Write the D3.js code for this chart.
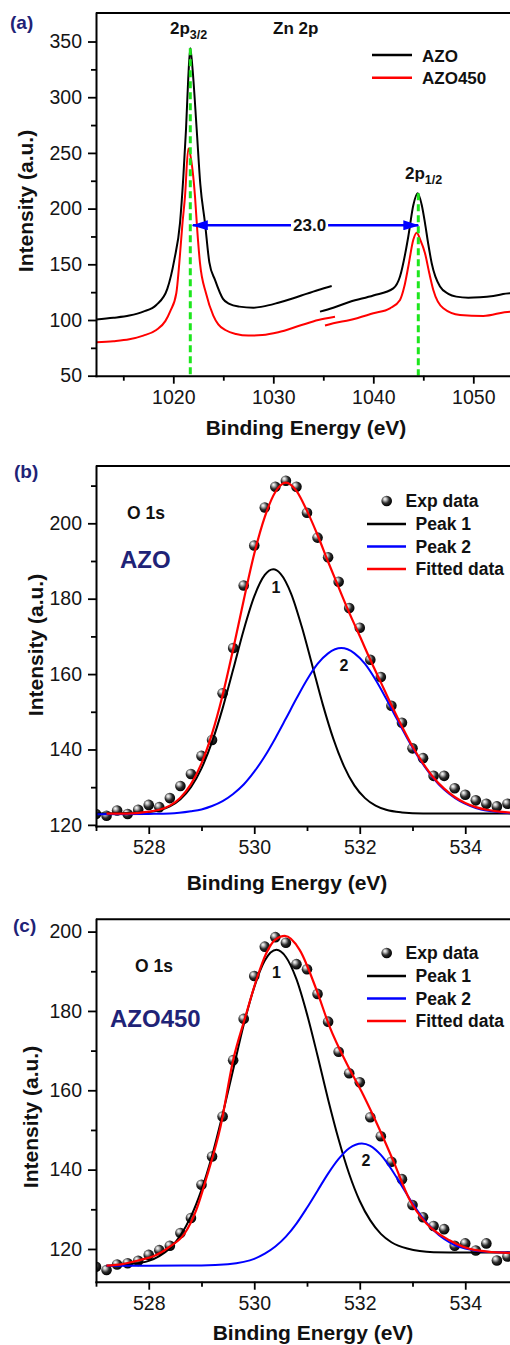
<!DOCTYPE html>
<html>
<head>
<meta charset="utf-8">
<script src="https://cdn.jsdelivr.net/npm/d3@7"></script>
<style>
  body { margin: 0; background: #fff; }
  svg { display: block; }
</style>
</head>
<body>
<div id="chart"></div>
<script>
// ---- panel (a): Zn 2p, [binding energy, intensity]
const azoLow = [[1012.3,100.5],[1014,102],[1015.6,104],[1017,107.5],[1018.3,113.5],[1019.4,128],[1020.1,154],[1020.67,187],[1021.0,228],[1021.27,271],[1021.5,318],[1021.7,344],[1021.9,328],[1022.34,271],[1022.7,222],[1023.17,187],[1023.6,152],[1024.17,136],[1024.97,119],[1025.6,114.5],[1026.6,112],[1028.0,111],[1028.9,112],[1030.5,115.5],[1032.0,119.5],[1033.3,123.5],[1034.5,127],[1035.84,130.5]];
const azoHigh = [[1034.67,107.5],[1036,111],[1037.67,116.4],[1040,122],[1042,128.4],[1042.67,139],[1043.2,160],[1043.5,175],[1044.0,203],[1044.44,213.7],[1044.85,203],[1045.17,187],[1045.5,168],[1045.84,151],[1046.67,130],[1047.5,123.5],[1048.3,121],[1049.5,120],[1050.67,120.4],[1052,121.5],[1053.67,124],[1055,124]];
const azo450Low = [[1012.3,80],[1014,81],[1015.6,82.7],[1017,86],[1018.3,91],[1019.2,99],[1019.7,108],[1020.3,124],[1020.6,151],[1020.9,185],[1021.17,211],[1021.5,254],[1021.8,243],[1022.17,211],[1022.4,180],[1022.67,151],[1023.27,124],[1024.0,104],[1024.5,96],[1025.2,91],[1026.27,87.4],[1027.5,86],[1028.9,86.5],[1030.5,89],[1032.67,95],[1034.5,100],[1036.17,103]];
const azo450High = [[1035.17,95],[1036,97],[1037.67,100],[1040,106],[1041.67,110.5],[1042.67,118],[1043.1,130],[1043.5,148],[1044.0,172],[1044.34,178.4],[1044.7,172],[1045.17,160],[1045.6,142],[1046,127],[1047,110.5],[1048.67,104.5],[1051,103.6],[1053.67,107.5],[1055,107]];
const peakEnergy = [1021.7, 1044.5];
const peakTop = [344, 213.7];
const splitEnds = [1021.95, 1044.5];
const splitLevel = 185;
const splitLabel = '23.0';

// ---- panel (b): O 1s AZO
const bExp = [[527.0,122.9],[527.2,122.4],[527.4,123.8],[527.6,122.9],[527.8,124.0],[528.0,125.3],[528.2,124.7],[528.4,127.1],[528.6,130.3],[528.8,133.5],[529.0,138.3],[529.2,142.5],[529.4,154.9],[529.6,166.9],[529.8,183.5],[530.0,194.1],[530.2,204.2],[530.4,209.7],[530.6,211.3],[530.8,209.7],[531.0,202.8],[531.2,196.2],[531.4,191.0],[531.6,184.5],[531.8,177.5],[532.0,172.3],[532.2,163.8],[532.4,159.2],[532.6,151.6],[532.8,147.1],[533.0,140.3],[533.2,137.7],[533.4,133.0],[533.6,133.0],[533.8,129.7],[534.0,128.0],[534.2,126.5],[534.4,125.6],[534.6,124.9],[534.8,125.6]];
const bPeak1 = [[527.0,123.0],[527.8,123.2],[528.0,123.4],[528.2,123.9],[528.4,124.9],[528.6,126.8],[528.8,130.0],[529.0,135.0],[529.2,142.0],[529.4,150.9],[529.6,161.2],[529.8,171.7],[530.0,180.6],[530.2,186.3],[530.36,187.8],[530.5,186.6],[530.7,181.3],[530.9,172.6],[531.1,162.3],[531.3,151.9],[531.5,142.8],[531.7,135.6],[531.9,130.4],[532.1,127.1],[532.3,125.1],[532.5,124.0],[532.8,123.3],[533.2,123.0],[535.0,123.0]];
const bPeak2 = [[527.0,122.8],[528.0,122.9],[528.4,123.0],[528.8,123.6],[529.0,124.1],[529.2,125.0],[529.4,126.3],[529.6,128.2],[529.8,130.7],[530.0,134.1],[530.2,138.2],[530.4,143.0],[530.6,148.2],[530.8,153.5],[531.0,158.5],[531.2,162.7],[531.4,165.5],[531.65,166.9],[531.9,165.5],[532.1,162.7],[532.3,158.5],[532.5,153.5],[532.7,148.2],[532.9,143.0],[533.1,138.2],[533.3,134.1],[533.5,130.7],[533.7,128.2],[533.9,126.3],[534.1,125.0],[534.3,124.1],[534.5,123.6],[534.9,123.0],[535.0,122.9]];
const bFit = [[527.2,123.0],[527.6,123.0],[528.0,123.5],[528.2,124.0],[528.4,125.1],[528.6,127.2],[528.8,130.8],[529.0,136.3],[529.2,144.2],[529.4,154.4],[529.6,166.6],[529.8,179.6],[530.0,191.9],[530.2,201.7],[530.4,208.3],[530.6,210.8],[530.8,208.6],[531.0,203.3],[531.2,196.9],[531.4,189.8],[531.6,183.0],[531.8,176.3],[532.0,170.1],[532.2,163.8],[532.4,157.8],[532.6,151.8],[532.8,146.1],[533.0,140.8],[533.2,136.3],[533.4,132.5],[533.6,129.6],[533.8,127.4],[534.0,125.8],[534.2,124.7],[534.4,124.0],[534.6,123.6],[534.8,123.3],[535.0,123.1]];

// ---- panel (c): O 1s AZO450
const cExp = [[527.0,115.5],[527.2,114.7],[527.4,116.1],[527.6,116.4],[527.8,117.0],[528.0,118.5],[528.2,119.7],[528.4,120.8],[528.6,124.0],[528.8,127.8],[529.0,136.2],[529.2,143.3],[529.4,153.4],[529.6,167.6],[529.8,178.0],[530.0,188.8],[530.2,196.2],[530.4,198.6],[530.6,197.2],[530.8,191.8],[531.0,190.5],[531.2,184.3],[531.4,177.3],[531.6,169.7],[531.8,164.3],[532.0,162.0],[532.2,153.2],[532.4,148.4],[532.6,142.0],[532.8,137.6],[533.0,131.1],[533.2,128.0],[533.4,125.8],[533.6,125.0],[533.8,120.8],[534.0,121.4],[534.2,119.6],[534.4,121.4],[534.6,117.1],[534.8,118.1]];
const cPeak1 = [[527.2,115.8],[527.6,116.1],[528.0,117.0],[528.2,118.2],[528.4,120.2],[528.6,123.4],[528.8,128.2],[529.0,134.9],[529.2,143.5],[529.4,153.9],[529.6,165.2],[529.8,176.5],[530.0,186.0],[530.2,192.7],[530.42,195.4],[530.6,193.6],[530.8,188.0],[531.0,179.2],[531.2,168.7],[531.4,157.7],[531.6,147.6],[531.8,138.9],[532.0,132.1],[532.2,127.2],[532.4,123.8],[532.6,121.7],[532.9,120.1],[533.4,119.2],[534.0,119.1],[535.0,119.1]];
const cPeak2 = [[527.2,115.8],[528.0,115.8],[529.0,115.85],[529.5,116.15],[529.8,116.75],[530.0,117.5],[530.2,118.8],[530.4,120.6],[530.6,123.1],[530.8,126.4],[531.0,130.4],[531.2,134.7],[531.4,139.0],[531.6,142.7],[531.8,145.4],[532.04,146.6],[532.2,146.0],[532.4,143.7],[532.6,140.1],[532.8,135.8],[533.0,131.5],[533.2,127.7],[533.4,124.7],[533.6,122.5],[533.8,121.0],[534.0,120.1],[534.4,119.3],[535.0,119.1]];
const cFit = [[527.2,115.8],[527.5,116.2],[527.83,117.2],[528.1,118.2],[528.4,120.6],[528.68,123.9],[528.9,129.8],[529.1,138.2],[529.36,150.8],[529.6,167.6],[529.82,178.0],[530.04,187.8],[530.23,194.6],[530.4,198.0],[530.58,198.9],[530.86,195.4],[531.18,185.3],[531.43,176.0],[531.75,166.8],[532.06,159.0],[532.38,150.0],[532.63,142.4],[532.95,132.3],[533.26,126.5],[533.7,122.2],[534.2,119.7],[534.81,119.0],[535.0,119.0]];

// ---- ticks
const aXMajor = [1020, 1030, 1040, 1050];
const aXMinor = [1015, 1025, 1035, 1045];
const aYMajor = [50, 100, 150, 200, 250, 300, 350];
const aYMinor = [75, 125, 175, 225, 275, 325];
const oXMajor = [528, 530, 532, 534];
const oXMinor = [527, 529, 531, 533];
const oYMajor = [120, 140, 160, 180, 200];
const bYMinor = [130, 150, 170, 190, 210];
const cYMinor = [130, 150, 170, 190];

const legendA = ['AZO', 'AZO450'];
const legendO = ['Exp data', 'Peak 1', 'Peak 2', 'Fitted data'];

const fontFam = '"Liberation Sans", Arial, Helvetica, sans-serif';
const navy = '#1f2377';
const red = '#ff0000';
const blue = '#0000ff';
const green = '#1de61d';

const svg = d3.select('#chart')
  .append('svg')
  .attr('width', 510)
  .attr('height', 1345)
  .attr('viewBox', [0, 0, 510, 1345])
  .style('font-family', fontFam);

const defs = svg.append('defs');
const grad = defs.append('radialGradient')
  .attr('id', 'ball')
  .attr('cx', '42%').attr('cy', '40%').attr('r', '60%')
  .attr('fx', '32%').attr('fy', '30%');
grad.append('stop').attr('offset', '0%').attr('stop-color', '#ffffff');
grad.append('stop').attr('offset', '22%').attr('stop-color', '#c4c4c4');
grad.append('stop').attr('offset', '60%').attr('stop-color', '#2b2b2b');
grad.append('stop').attr('offset', '100%').attr('stop-color', '#000000');

defs.append('marker')
  .attr('id', 'arrow')
  .attr('viewBox', '0 0 16 10')
  .attr('refX', 15).attr('refY', 5)
  .attr('markerWidth', 16).attr('markerHeight', 10)
  .attr('markerUnits', 'userSpaceOnUse')
  .attr('orient', 'auto-start-reverse')
  .append('path')
  .attr('d', 'M0,0 L16,5 L0,10 z')
  .attr('fill', blue);

function addClip(id, x, y) {
  defs.append('clipPath').attr('id', id)
    .append('rect')
    .attr('x', x.range()[0]).attr('y', y.range()[1])
    .attr('width', x.range()[1] - x.range()[0])
    .attr('height', y.range()[0] - y.range()[1]);
}

function drawFrame(x, y, xMajor, xMinor, yMajor, yMinor) {
  const g = svg.append('g');
  const [x0, x1] = x.range();
  const [yb, yt] = y.range();

  g.append('line')
    .attr('x1', x0).attr('x2', x1 + 4)
    .attr('y1', yt).attr('y2', yt)
    .attr('stroke', '#000').attr('stroke-width', 2);

  g.append('g')
    .attr('transform', `translate(0,${yb})`)
    .call(d3.axisBottom(x).tickValues(xMajor).tickSize(8).tickPadding(6).tickSizeOuter(0).tickFormat(d3.format('d')));
  g.append('g')
    .attr('transform', `translate(0,${yb})`)
    .call(d3.axisBottom(x).tickValues(xMinor).tickSize(5).tickFormat(''))
    .call(a => a.select('.domain').remove());

  g.append('g')
    .attr('transform', `translate(${x0},0)`)
    .call(d3.axisLeft(y).tickValues(yMajor).tickSize(8).tickPadding(6).tickSizeOuter(0));
  g.append('g')
    .attr('transform', `translate(${x0},0)`)
    .call(d3.axisLeft(y).tickValues(yMinor).tickSize(5).tickFormat(''))
    .call(a => a.select('.domain').remove());

  g.selectAll('.domain').attr('stroke-width', 2).attr('stroke-linecap', 'square');
  g.selectAll('.tick line').attr('stroke-width', 1.8);
  g.selectAll('.tick text')
    .attr('font-size', 19.5)
    .attr('font-family', fontFam)
    .attr('fill', '#151515');
  return g;
}

function addText(txt, x, y, size, opts = {}) {
  return svg.append('text')
    .attr('x', x).attr('y', y)
    .attr('font-size', size)
    .attr('font-weight', opts.weight || 'bold')
    .attr('fill', opts.fill || '#111')
    .attr('text-anchor', opts.anchor || 'start')
    .text(txt);
}

function axisTitles(xc, xy, yx, yc) {
  addText('Binding Energy (eV)', xc, xy, 21, { anchor: 'middle' });
  svg.append('text')
    .attr('transform', `translate(${yx},${yc}) rotate(-90)`)
    .attr('text-anchor', 'middle')
    .attr('font-size', 21)
    .attr('font-weight', 'bold')
    .attr('fill', '#111')
    .text('Intensity (a.u.)');
}

function drawLine(g, data, x, y, color, width) {
  const line = d3.line()
    .x(d => x(d[0]))
    .y(d => y(d[1]))
    .curve(d3.curveMonotoneX);
  g.append('path')
    .attr('fill', 'none')
    .attr('stroke', color)
    .attr('stroke-width', width)
    .attr('stroke-linejoin', 'round')
    .attr('d', line(data));
}

// ================= panel (a)
const xa = d3.scaleLinear().domain([1012.27, 1055]).range([96, 523.3]);
const ya = d3.scaleLinear().domain([50, 375.6]).range([375.7, 13]);
addClip('clipA', xa, ya);

const plotA = svg.append('g').attr('clip-path', 'url(#clipA)');
drawLine(plotA, azoLow, xa, ya, '#000', 2);
drawLine(plotA, azoHigh, xa, ya, '#000', 2);
drawLine(plotA, azo450Low, xa, ya, red, 2);
drawLine(plotA, azo450High, xa, ya, red, 2);

// green dashed peak markers
plotA.selectAll('line.peak')
  .data(peakEnergy)
  .enter()
  .append('line')
  .attr('class', 'peak')
  .attr('x1', d => xa(d)).attr('x2', d => xa(d))
  .attr('y1', (d, i) => ya(peakTop[i]))
  .attr('y2', ya(50))
  .attr('stroke', green)
  .attr('stroke-width', 3)
  .attr('stroke-dasharray', '7,4');

// spin-orbit splitting arrow
svg.append('line')
  .attr('x1', xa(splitEnds[0])).attr('x2', xa(splitEnds[1]))
  .attr('y1', ya(splitLevel)).attr('y2', ya(splitLevel))
  .attr('stroke', blue)
  .attr('stroke-width', 2.5)
  .attr('marker-start', 'url(#arrow)')
  .attr('marker-end', 'url(#arrow)');
const splitMid = (xa(splitEnds[0]) + xa(splitEnds[1])) / 2 + 4;
const splitBg = svg.append('rect').attr('fill', '#fff');
const splitTxt = addText(splitLabel, splitMid, ya(splitLevel) + 6, 17, { anchor: 'middle' });
const sb = splitTxt.node().getBBox();
splitBg.attr('x', sb.x - 2).attr('y', sb.y + 2).attr('width', sb.width + 4).attr('height', sb.height - 4);

drawFrame(xa, ya, aXMajor, aXMinor, aYMajor, aYMinor);
axisTitles(306, 434.5, 33, 201);

addText('(a)', 10, 29, 19, { fill: navy });
const p32 = addText('2p', 170, 34, 17);
p32.append('tspan').attr('font-size', 12.5).attr('dy', 5).text('3/2');
const p12 = addText('2p', 405, 179, 17);
p12.append('tspan').attr('font-size', 12.5).attr('dy', 5).text('1/2');
addText('Zn 2p', 273, 34, 17);

const legA = svg.append('g');
legA.selectAll('line')
  .data(legendA)
  .enter()
  .append('line')
  .attr('x1', 372).attr('x2', 412)
  .attr('y1', (d, i) => 55 + i * 22.7)
  .attr('y2', (d, i) => 55 + i * 22.7)
  .attr('stroke', (d, i) => i === 0 ? '#000' : red)
  .attr('stroke-width', 2.5);
legA.selectAll('text')
  .data(legendA)
  .enter()
  .append('text')
  .attr('x', 422)
  .attr('y', (d, i) => 61.5 + i * 22.7)
  .attr('font-size', 17)
  .attr('font-weight', 'bold')
  .attr('fill', '#111')
  .text(d => d);

// ================= panels (b) and (c)
function drawO1s(cfg) {
  const x = d3.scaleLinear().domain([527, 535]).range([96, 518]);
  const y = d3.scaleLinear().domain(cfg.yDomain).range(cfg.yRange);
  addClip(cfg.clip, x, y);
  const plot = svg.append('g').attr('clip-path', `url(#${cfg.clip})`);

  plot.selectAll('circle')
    .data(cfg.exp)
    .enter()
    .append('circle')
    .attr('cx', d => x(d[0]))
    .attr('cy', d => y(d[1]))
    .attr('r', 5.3)
    .attr('fill', 'url(#ball)');

  drawLine(plot, cfg.peak1, x, y, '#000', 2);
  drawLine(plot, cfg.peak2, x, y, blue, 2);
  drawLine(plot, cfg.fit, x, y, red, 2.2);

  drawFrame(x, y, oXMajor, oXMinor, oYMajor, cfg.yMinor);
  axisTitles(cfg.xTitleX, cfg.xTitleY, cfg.yTitleX, cfg.yTitleY);

  addText(cfg.tag, cfg.tagX, cfg.tagY, 19, { fill: navy });
  addText('O 1s', cfg.o1s[0], cfg.o1s[1], 17.5);
  addText(cfg.sample, cfg.sampleXY[0], cfg.sampleXY[1], 24, { fill: navy });
  addText('1', cfg.lab1[0], cfg.lab1[1], 16, { anchor: 'middle' });
  addText('2', cfg.lab2[0], cfg.lab2[1], 16, { anchor: 'middle' });

  const ly = cfg.legendY;
  const leg = svg.append('g');
  leg.append('circle')
    .attr('cx', 386.7).attr('cy', ly)
    .attr('r', 5.3)
    .attr('fill', 'url(#ball)');
  leg.append('text')
    .attr('x', 405.5).attr('y', ly + 6.3)
    .attr('font-size', 17.5).attr('font-weight', 'bold').attr('fill', '#111')
    .text(legendO[0]);
  const colors = ['#000', blue, red];
  legendO.slice(1).forEach((name, i) => {
    const yy = ly + 23 + i * 22.5;
    leg.append('line')
      .attr('x1', 367).attr('x2', 406)
      .attr('y1', yy).attr('y2', yy)
      .attr('stroke', colors[i])
      .attr('stroke-width', 2.5);
    leg.append('text')
      .attr('x', 415.5).attr('y', yy + 6.3)
      .attr('font-size', 17.5).attr('font-weight', 'bold').attr('fill', '#111')
      .text(name);
  });
}

drawO1s({
  clip: 'clipB',
  exp: bExp, peak1: bPeak1, peak2: bPeak2, fit: bFit,
  yDomain: [119.7, 215.2], yRange: [826, 466], yMinor: bYMinor,
  xTitleX: 287, xTitleY: 890, yTitleX: 43, yTitleY: 645,
  tag: '(b)', tagX: 14, tagY: 478,
  o1s: [127, 519], sample: 'AZO', sampleXY: [120, 568],
  lab1: [276, 593], lab2: [344, 671],
  legendY: 501
});

drawO1s({
  clip: 'clipC',
  exp: cExp, peak1: cPeak1, peak2: cPeak2, fit: cFit,
  yDomain: [111.75, 203.1], yRange: [1281.7, 919.3], yMinor: cYMinor,
  xTitleX: 313, xTitleY: 1340, yTitleX: 38, yTitleY: 1117,
  tag: '(c)', tagX: 13, tagY: 932,
  o1s: [135, 971.5], sample: 'AZO450', sampleXY: [110, 1026.5],
  lab1: [276.5, 978], lab2: [366, 1166],
  legendY: 953
});
</script>
</body>
</html>
